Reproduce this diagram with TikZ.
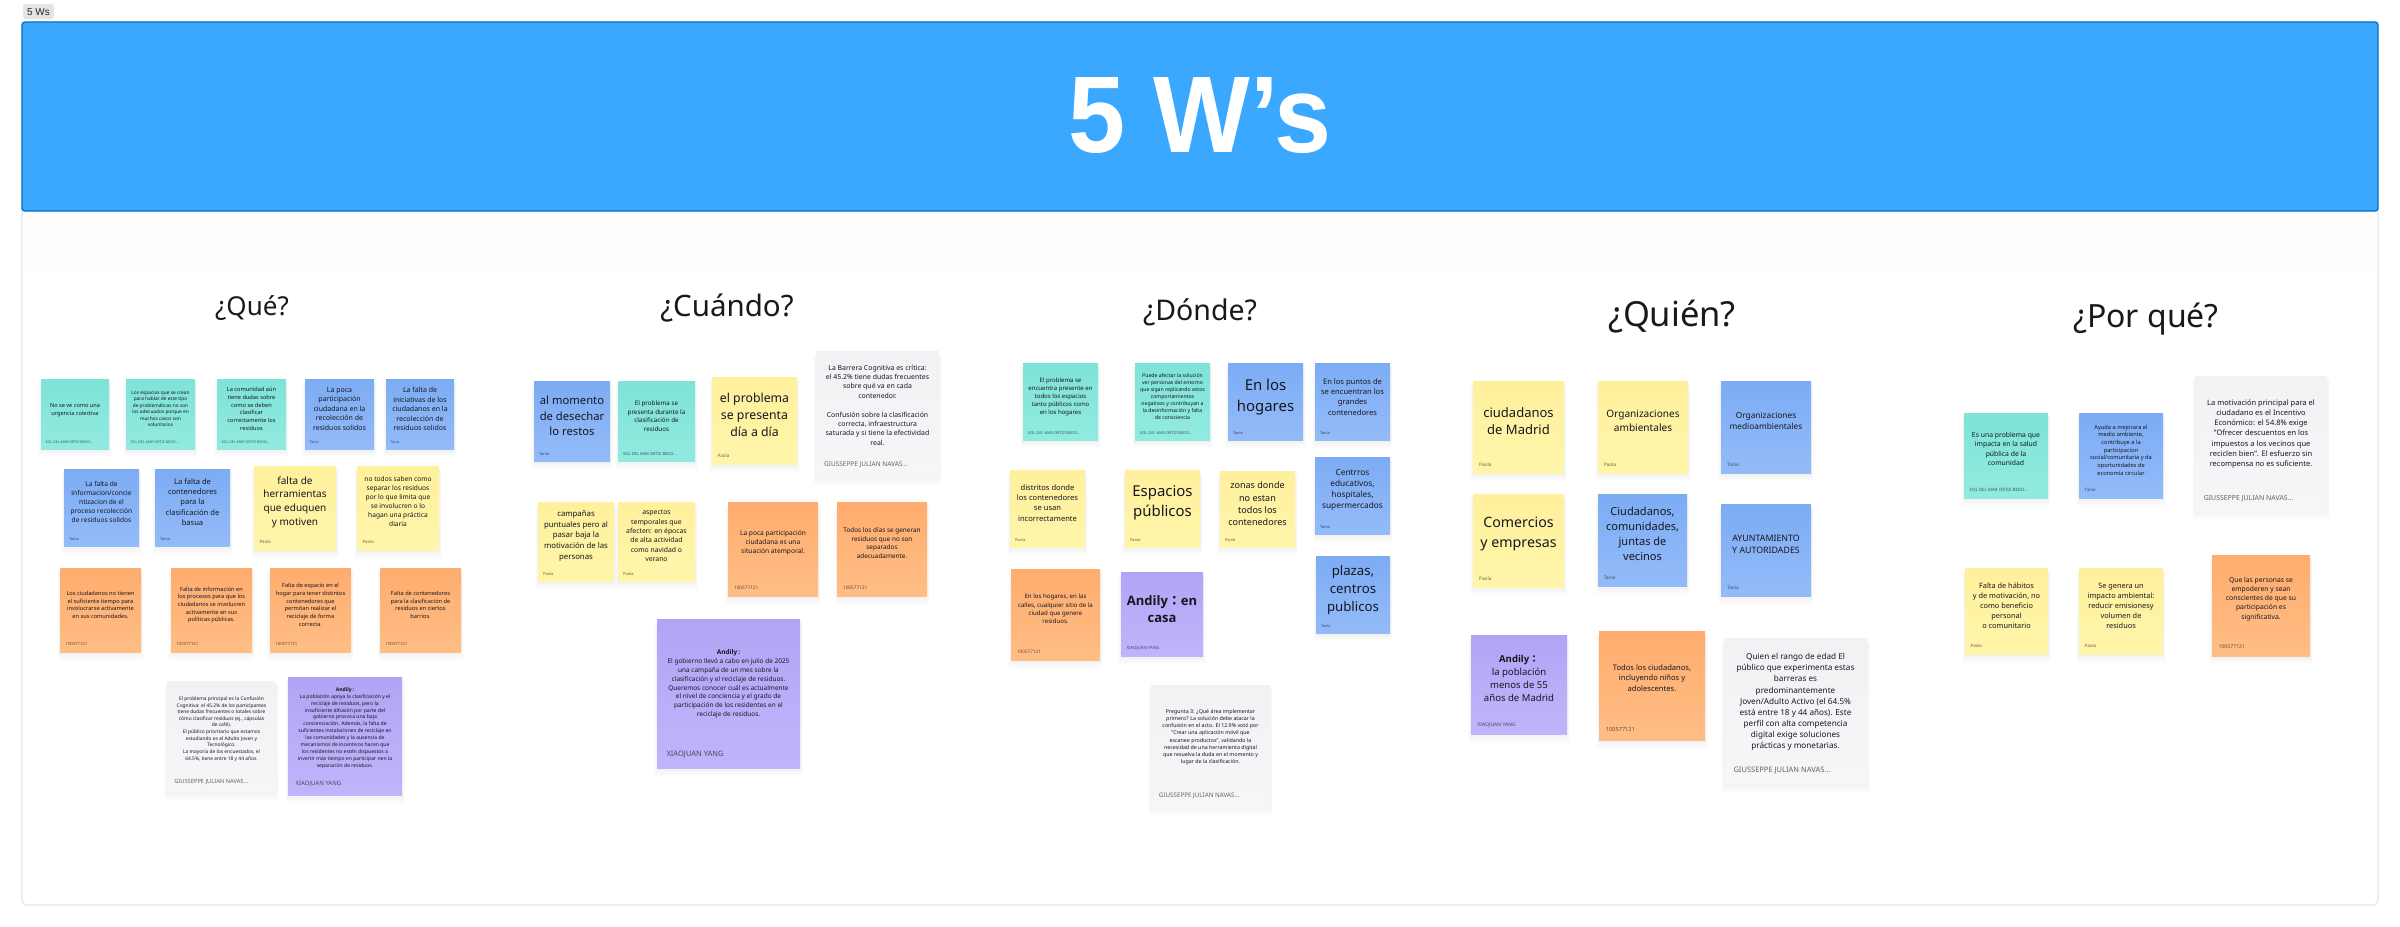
\documentclass[tikz,border=0pt]{standalone}
\usepackage{fontspec}
\setmainfont{Noto Sans}
\newfontfamily\headfont{Liberation Sans}
\newfontfamily\boldnote{Open Sans}
\newfontfamily\cjkcolon{Noto Sans CJK TC}
\newcommand{\wcolon}{{\cjkcolon\bfseries ：}}
\newcommand{\bn}[1]{{\boldnote\bfseries #1}}
\definecolor{bannerblue}{HTML}{3AA8FF}
\definecolor{bannerline}{HTML}{0A6FBF}
\definecolor{framegrey}{HTML}{E4E4E4}
\definecolor{inktext}{HTML}{16161F}
\tikzset{
  pal-teal/.style={top color={rgb,255:red,126;green,227;blue,216},bottom color={rgb,255:red,146;green,234;blue,223}},
  pal-blue/.style={top color={rgb,255:red,124;green,172;blue,244},bottom color={rgb,255:red,148;green,187;blue,248}},
  pal-yellow/.style={top color={rgb,255:red,255;green,240;blue,156},bottom color={rgb,255:red,255;green,245;blue,170}},
  pal-orange/.style={top color={rgb,255:red,255;green,172;blue,110},bottom color={rgb,255:red,255;green,190;blue,133}},
  pal-purple/.style={top color={rgb,255:red,176;green,165;blue,245},bottom color={rgb,255:red,192;green,181;blue,251}},
  pal-grey/.style={top color={rgb,255:red,241;green,242;blue,244},bottom color={rgb,255:red,245;green,246;blue,248}},
  notebody/.style={inner sep=0pt,outer sep=0pt,draw=none},
  notetext/.style={inner sep=0pt,align=center,text=inktext},
  noteauthor/.style={inner sep=0pt,anchor=west,text=black,text opacity=.6},
  heading/.style={inner sep=0pt,text=black!90},
}
\def\parsebox#1,#2,#3,#4\relax{\def\xa{#1}\def\ya{#2}\def\xb{#3}\def\yb{#4}}
% name, {x1,y1,x2,y2}, palette, line height, text centre y, text, author
\newcommand{\sticknote}[7]{%
  \parsebox#2\relax
  \pgfmathsetmacro\nw{\xb-\xa}%
  \pgfmathsetmacro\nh{\yb-\ya}%
  \pgfmathsetmacro\ncx{(\xa+\xb)/2}%
  \pgfmathsetmacro\ncy{(\ya+\yb)/2}%
  \pgfmathsetmacro\nfs{#4/1.36}%
  \pgfmathsetmacro\afs{\nw*0.0525}%
  \pgfmathsetmacro\alh{\afs*1.3}%
  \pgfmathsetmacro\aix{\xa+\nw*0.065}%
  \pgfmathsetmacro\aiy{\yb-\nw*0.095}%
  \foreach \dd/\op in {9/.008,7/.01,5/.012,3/.016,1/.02}{%
    \fill[black,opacity=\op] (\xa-\dd*.3,\ya+4) rectangle (\xb+\dd*.3,\yb+\dd);
  }%
  \node[notebody,#3,minimum width=\nw pt,minimum height=\nh pt] (#1) at (\ncx,\ncy) {};
  \node[notetext,font=\fontsize{\nfs pt}{#4 pt}\selectfont] (#1-t) at (\ncx,#5) {#6};
  \node[noteauthor,font=\fontsize{\afs pt}{\alh pt}\selectfont] (#1-a) at (\aix,\aiy) {#7};
}
\begin{document}
\begin{tikzpicture}[x=1pt,y=-1pt]
\useasboundingbox (0,0) rectangle (2400,926);
\fill[white] (0,0) rectangle (2400,926);
% frame
\draw[framegrey,line width=1.2pt,rounded corners=5pt] (22,22) rectangle (2378,905);
\fill[black,opacity=.006] (23,211) rectangle (2377,272);
% banner
\node[draw=bannerline,fill=bannerblue,line width=1.4pt,rounded corners=3pt,minimum width=2356pt,minimum height=189pt,inner sep=0pt] (banner) at (1200,116.5) {};
\node[inner sep=0pt,text=white] (bannertitle) at (1200,116) {\scalebox{.94}[1]{\headfont\fontsize{109pt}{120pt}\selectfont\bfseries 5 W’s}};
% tab
\node[fill=black!10,rounded corners=2.5pt,minimum width=31pt,minimum height=15pt,inner sep=0pt] (tab) at (38.5,11.5) {};
\node[inner sep=0pt,text=black!85] (tabtext) at (38.5,12) {\headfont\fontsize{10pt}{12pt}\selectfont 5 Ws};
% headings
\node[heading,font=\fontsize{26pt}{32pt}\selectfont] (hq) at (252,308) {¿Qué?};
\node[heading,font=\fontsize{29.5pt}{36pt}\selectfont] (hc) at (727,308) {¿Cuándo?};
\node[heading,font=\fontsize{28.5pt}{36pt}\selectfont] (hd) at (1200,312) {¿Dónde?};
\node[heading,font=\fontsize{34.5pt}{42pt}\selectfont] (hw) at (1672,317) {¿Quién?};
\node[heading,font=\fontsize{32pt}{40pt}\selectfont] (hp) at (2146,319) {¿Por qué?};
% Que
\sticknote{q1}{41,379,109,449}{pal-teal}{7.6}{410}{No se ve como una\\urgencia colectiva}{SOL DEL MAR ORTIZ BEDO...}
\sticknote{q2}{126,379,195,449}{pal-teal}{6.5}{409}{Los espacios que se crean\\para hablar de este tipo\\de problemáticas no son\\los adecuados porque en\\muchos casos son\\voluntarios}{SOL DEL MAR ORTIZ BEDO...}
\sticknote{q3}{217,379,286,449}{pal-teal}{7.7}{409}{La comunidad aún\\tiene dudas sobre\\como se deben\\clasificar\\correctamente los\\residuos}{SOL DEL MAR ORTIZ BEDO...}
\sticknote{q4}{305,379,374,449}{pal-blue}{9.5}{409}{La poca\\participación\\ciudadana en la\\recolección de\\residuos solidos}{Tania}
\sticknote{q5}{386,379,454,449}{pal-blue}{9.5}{409}{La falta de\\iniciativas de los\\ciudadanos en la\\recolección de\\residuos solidos}{Tania}
\sticknote{q6}{64,469,139,546}{pal-blue}{9}{502}{La falta de\\informacion/concie\\ntizacion de el\\proceso recolección\\de residuos solidos}{Tania}
\sticknote{q7}{155,469,230,546}{pal-blue}{10.3}{502}{La falta de\\contenedores\\para la\\clasificación de\\basua}{Tania}
\sticknote{q8}{254,466,336,550}{pal-yellow}{13.6}{502}{falta de\\herramientas\\que eduquen\\y motiven}{Paola}
\sticknote{q9}{357,466,439,550}{pal-yellow}{9}{502}{no todos saben como\\separar los residuos\\por lo que limita que\\se involucren o lo\\hagan una práctica\\diaria}{Paola}
\sticknote{q10}{60,568,141,652}{pal-orange}{7.7}{605}{Los ciudadanos no tienen\\el suficiente tiempo para\\involucrarse activamente\\en sus comunidades.}{100577121}
\sticknote{q11}{171,568,252,652}{pal-orange}{7.7}{605}{Falta de información en\\los procesos para que los\\ciudadanos se involucren\\activamente en sus\\políticas públicas.}{100577121}
\sticknote{q12}{270,568,351,652}{pal-orange}{7.7}{605}{Falta de espacio en el\\hogar para tener distintos\\contenedores que\\permitan realizar el\\reciclaje de forma\\correcta.}{100577121}
\sticknote{q13}{380,568,461,652}{pal-orange}{7.7}{605}{Falta de contenedores\\para la clasificación de\\residuos en ciertos\\barrios.}{100577121}
\sticknote{q14}{167,681,276,792}{pal-grey}{6.63}{729}{El problema principal es la Confusión\\Cognitiva: el 45.2\% de los participantes\\tiene dudas frecuentes o totales sobre\\cómo clasificar residuos (ej., cápsulas\\de café).\\El público prioritario que estamos\\estudiando es el Adulto Joven y\\Tecnológico.\\La mayoría de los encuestados, el\\64.5\%, tiene entre 18 y 44 años.}{GIUSSEPPE JULIAN NAVAS...}
\sticknote{q15}{288,677,402,795}{pal-purple}{6.9}{728}{\bn{Andily\,:}\\La población apoya la clasificación y el\\reciclaje de residuos, pero la\\insuficiente difusión por parte del\\gobierno provoca una baja\\concienciación. Además, la falta de\\suficientes instalaciones de reciclaje en\\las comunidades y la ausencia de\\mecanismos de incentivos hacen que\\los residentes no estén dispuestos a\\invertir más tiempo en participar nen la\\separación de residuos.}{XIAOJUAN YANG}
% Cuando
\sticknote{c1}{534,381,610,461}{pal-blue}{15.3}{416}{al momento\\de desechar\\lo restos}{Tania}
\sticknote{c2}{618,381,695,461}{pal-teal}{8.5}{416}{El problema se\\presenta durante la\\clasificación de\\residuos}{SOL DEL MAR ORTIZ BEDO...}
\sticknote{c3}{712,377,797,464}{pal-yellow}{16.7}{415}{el problema\\se presenta\\día a día}{Paola}
\sticknote{c4}{816,351,939,476}{pal-grey}{9.4}{405}{La Barrera Cognitiva es crítica:\\el 45.2\% tiene dudas frecuentes\\sobre qué va en cada\\contenedor.\\[9.4pt]Confusión sobre la clasificación\\correcta, infraestructura\\saturada y si tiene la efectividad\\real.}{GIUSSEPPE JULIAN NAVAS...}
\sticknote{c5}{538,502,614,581}{pal-yellow}{10.6}{536}{campañas\\puntuales pero al\\pasar baja la\\motivación de las\\personas}{Paola}
\sticknote{c6}{618,502,695,581}{pal-yellow}{9.3}{536}{aspectos\\temporales que\\afecten: en épocas\\de alta actividad\\como navidad o\\verano}{Paola}
\sticknote{c7}{728,502,818,596}{pal-orange}{9}{543}{La poca participación\\ciudadana es una\\situación atemporal.}{100577121}
\sticknote{c8}{837,502,927,596}{pal-orange}{8.7}{543}{Todos los días se generan\\residuos que no son\\separados\\adecuadamente.}{100577121}
\sticknote{c9}{657,619,800,768}{pal-purple}{8.8}{684}{\bn{Andily\,:}\\El gobierno llevó a cabo en julio de 2025\\una campaña de un mes sobre la\\clasificación y el reciclaje de residuos.\\Queremos conocer cuál es actualmente\\el nivel de conciencia y el grado de\\participación de los residentes en el\\reciclaje de residuos.}{XIAOJUAN YANG}
% Donde
\sticknote{d1}{1023,363,1098,440}{pal-teal}{8.2}{397}{El problema se\\encuentra presente en\\todos los espacios\\tanto públicos como\\en los hogares}{SOL DEL MAR ORTIZ BEDO...}
\sticknote{d2}{1135,363,1210,440}{pal-teal}{7}{397}{Puede afectar la solución\\ver personas del entorno\\que sigan replicando estos\\comportamientos\\negativos y contribuyan a\\la desinformación y falta\\de consciencia}{SOL DEL MAR ORTIZ BEDO...}
\sticknote{d3}{1228,363,1303,440}{pal-blue}{20.3}{397}{En los\\hogares}{Tania}
\sticknote{d4}{1315,363,1390,440}{pal-blue}{10.3}{397}{En los puntos de\\se encuentran los\\grandes\\contenedores}{Tania}
\sticknote{d5}{1010,470,1085,547}{pal-yellow}{10.3}{503}{distritos donde\\los contenedores\\se usan\\incorrectamente}{Paola}
\sticknote{d6}{1125,470,1200,547}{pal-yellow}{20.3}{503}{Espacios\\públicos}{Paola}
\sticknote{d7}{1220,471,1295,547}{pal-yellow}{12.3}{504}{zonas donde\\no estan\\todos los\\contenedores}{Paola}
\sticknote{d8}{1315,457,1390,534}{pal-blue}{11.3}{490}{Centrros\\educativos,\\hospitales,\\supermercados}{Tania}
\sticknote{d9}{1316,556,1390,633}{pal-blue}{18}{590}{plazas,\\centros\\publicos}{Tania}
\sticknote{d10}{1011,569,1100,660}{pal-orange}{8.3}{609}{En los hogares, en las\\calles, cualquier sitio de la\\ciudad que genere\\residuos.}{100577121}
\sticknote{d11}{1121,572,1203,656}{pal-purple}{17.7}{609}{\bn{Andily\wcolon en}\\\bn{casa}}{XIAOJUAN YANG}
\sticknote{d12}{1151,685,1270,807}{pal-grey}{7.2}{737}{Pregunta 3: ¿Qué área implementar\\primero? La solución debe atacar la\\confusión en el acto. El 12.9\% votó por\\"Crear una aplicación móvil que\\escanee productos", validando la\\necesidad de una herramienta digital\\que resuelva la duda en el momento y\\lugar de la clasificación.}{GIUSSEPPE JULIAN NAVAS...}
% Quien
\sticknote{w1}{1473,381,1564,473}{pal-yellow}{17.7}{421}{ciudadanos\\de Madrid}{Paola}
\sticknote{w2}{1598,381,1688,473}{pal-yellow}{13.7}{421}{Organizaciones\\ambientales}{Paola}
\sticknote{w3}{1721,381,1811,473}{pal-blue}{11.3}{421}{Organizaciones\\medioambientales}{Tania}
\sticknote{w4}{1473,494,1564,587}{pal-yellow}{19.3}{534}{Comercios\\y empresas}{Paola}
\sticknote{w5}{1598,494,1687,586}{pal-blue}{15}{534}{Ciudadanos,\\comunidades,\\juntas de\\vecinos}{Tania}
\sticknote{w6}{1721,504,1811,596}{pal-blue}{12}{544}{AYUNTAMIENTO\\Y AUTORIDADES}{Tania}
\sticknote{w7}{1471,635,1567,734}{pal-purple}{13}{678}{\bn{Andily\wcolon}\\la población\\menos de 55\\años de Madrid}{XIAOJUAN YANG}
\sticknote{w8}{1599,631,1705,740}{pal-orange}{10.3}{678}{Todos los ciudadanos,\\incluyendo niños y\\adolescentes.}{100577121}
\sticknote{w9}{1724,638,1867,784}{pal-grey}{11.1}{702}{Quien el rango de edad El\\público que experimenta estas\\barreras es\\predominantemente\\Joven/Adulto Activo (el 64.5\%\\está entre 18 y 44 años). Este\\perfil con alta competencia\\digital exige soluciones\\prácticas y monetarias.}{GIUSSEPPE JULIAN NAVAS...}
% Por que
\sticknote{p1}{1964,413,2048,498}{pal-teal}{9.3}{449}{Es una problema que\\impacta en la salud\\pública de la\\comunidad}{SOL DEL MAR ORTIZ BEDO...}
\sticknote{p2}{2079,413,2163,498}{pal-blue}{7.7}{450}{Ayuda a mejorara el\\medio ambiente,\\contribuye a la\\participacion\\social/comunitaria y da\\oportunidades de\\economía circular}{Tania}
\sticknote{p3}{2195,376,2327,511}{pal-grey}{10.2}{434}{La motivación principal para el\\ciudadano es el Incentivo\\Económico: el 54.8\% exige\\"Ofrecer descuentos en los\\impuestos a los vecinos que\\reciclen bien". El esfuerzo sin\\recompensa no es suficiente.}{GIUSSEPPE JULIAN NAVAS...}
\sticknote{p4}{1965,568,2048,654}{pal-yellow}{10}{606}{Falta de hábitos\\y de motivación, no\\como beneficio\\personal\\o comunitario}{Paola}
\sticknote{p5}{2079,568,2163,654}{pal-yellow}{10}{606}{Se genera un\\impacto ambiental:\\reducir emisionesy\\volumen de\\residuos}{Paola}
\sticknote{p6}{2212,555,2310,656}{pal-orange}{9.2}{599}{Que las personas se\\empoderen y sean\\conscientes de que su\\participación es\\significativa.}{100577121}
\end{tikzpicture}
\end{document}
